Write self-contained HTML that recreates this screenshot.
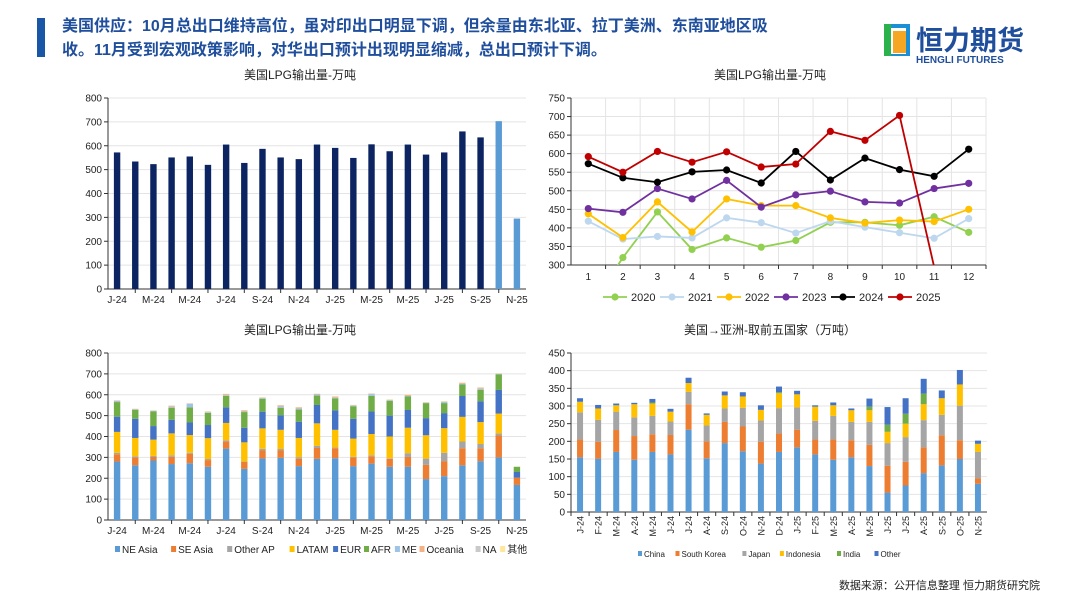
<!DOCTYPE html>
<html><head><meta charset="utf-8">
<style>
body{margin:0;width:1080px;height:608px;background:#fff;overflow:hidden;font-family:"Liberation Sans","Noto Sans CJK SC",sans-serif;}
svg text{font-family:"Liberation Sans","Noto Sans CJK SC",sans-serif;}
</style></head>
<body>
<svg id="s" width="1080" height="608">
<rect x="37" y="18" width="8" height="39" fill="#1a56a6"/>
<text x="62" y="31" font-size="16" font-weight="bold" fill="#1f4e9c">美国供应：10月总出口维持高位，虽对印出口明显下调，但余量由东北亚、拉丁美洲、东南亚地区吸</text>
<text x="62" y="55" font-size="16" font-weight="bold" fill="#1f4e9c">收。11月受到宏观政策影响，对华出口预计出现明显缩减，总出口预计下调。</text>
<g>
<rect x="884" y="24" width="26" height="32" fill="#1a8fd6"/>
<rect x="890" y="28" width="16" height="26" fill="#fff"/>
<rect x="893" y="31" width="13" height="22" fill="#f5a623"/>
<rect x="884" y="24" width="7" height="32" fill="#2bb24c"/>
<text x="916" y="50" font-size="27" font-weight="bold" fill="#1f4e9c">恒力期货</text>
<text x="916" y="63" font-size="10" font-weight="bold" fill="#1f4e9c">HENGLI FUTURES</text>
</g>
<text x="300" y="79" font-size="12" text-anchor="middle" fill="#222">美国LPG输出量-万吨</text>
<text x="770" y="79" font-size="12" text-anchor="middle" fill="#222">美国LPG输出量-万吨</text>
<text x="300" y="334" font-size="12" text-anchor="middle" fill="#222">美国LPG输出量-万吨</text>
<text x="770" y="334" font-size="12" text-anchor="middle" fill="#222">美国→亚洲-取前五国家（万吨）</text>
<text x="1040" y="589" font-size="11" text-anchor="end" fill="#222">数据来源：公开信息整理 恒力期货研究院</text>
<g id="c1"></g><g id="c2"></g><g id="c3"></g><g id="c4"></g>
</svg>
<script>
const months1 = ["J-24","F-24","M-24","A-24","M-24","J-24","J-24","A-24","S-24","O-24","N-24","D-24","J-25","F-25","M-25","A-25","M-25","J-25","J-25","A-25","S-25","O-25","N-25"];
const yTicks1 = [0,100,200,300,400,500,600,700,800];
const exports1 = [572,534,523,551,555,520,605,528,587,551,544,605,591,549,606,577,605,563,572,660,635,703,295];
const forecastFlags = [0,0,0,0,0,0,0,0,0,0,0,0,0,0,0,0,0,0,0,0,0,1,1];

const monthNums = [1,2,3,4,5,6,7,8,9,10,11,12];
const yTicks2 = [300,350,400,450,500,550,600,650,700,750];
const years = ["2020","2021","2022","2023","2024","2025"];
const y2020 = [177,320,443,342,373,348,366,415,415,407,430,388];
const y2021 = [418,370,377,373,427,414,386,418,402,387,372,425];
const y2022 = [438,374,470,389,478,460,460,427,413,421,417,450];
const y2023 = [452,442,506,478,528,456,489,499,470,467,506,520];
const y2024 = [573,535,523,551,556,521,606,529,588,557,539,612];
const y2025 = [592,550,606,577,605,564,572,660,636,703,295];

const regions = ["NE Asia","SE Asia","Other AP","LATAM","EUR","AFR","ME","Oceania","NA","其他"];
const neAsia = [280,262,285,268,272,255,342,245,295,298,258,293,296,258,270,255,255,196,210,262,282,300,168];
const seAsia = [35,38,17,35,45,32,35,33,38,35,35,52,48,42,35,38,47,68,72,82,62,105,35];
const otherAP = [7,5,5,7,5,5,5,2,8,7,8,10,3,3,5,3,18,30,40,32,20,10,0];
const latam = [100,88,78,105,85,100,83,92,98,92,92,108,85,87,102,104,122,112,118,118,105,95,0];
const eur = [73,92,65,65,60,63,75,70,80,70,78,88,93,95,108,100,85,82,72,100,100,113,27];
const afr = [70,42,70,57,73,58,55,75,62,35,58,45,58,60,75,70,65,72,48,55,55,75,25];
const me = [5,3,3,5,17,3,3,3,3,7,5,5,3,3,8,3,2,2,5,3,5,2,0];
const oceania = [2,2,1,5,1,3,5,5,2,5,5,3,5,2,2,3,5,1,2,5,5,1,0];
const na = [1,1,1,1,1,1,1,1,1,1,1,1,1,1,1,1,1,1,1,1,1,1,0];
const others = [1,1,1,1,1,1,1,1,1,1,1,1,1,1,1,1,1,1,1,1,1,1,0];

const countries = ["China","South Korea","Japan","Indonesia","India","Other"];
const yTicks4 = [0,50,100,150,200,250,300,350,400,450];
const china = [155,151,170,148,170,163,233,152,195,172,137,170,183,163,148,155,130,55,75,110,132,150,80];
const korea = [50,48,62,67,50,55,72,48,60,70,62,52,50,42,57,48,60,76,67,73,85,53,15];
const japan = [77,62,52,53,52,38,35,45,38,53,60,72,63,53,67,52,65,64,70,77,58,98,75];
const indonesia = [30,32,18,37,35,28,25,30,37,32,30,42,37,40,30,33,33,32,38,45,47,60,23];
const india = [0,0,0,0,3,0,0,0,0,0,0,3,0,0,0,0,10,20,28,30,0,0,0];
const otherC = [10,10,5,4,10,8,15,4,11,12,13,16,10,4,8,5,23,50,44,42,22,41,9];

const NS="http://www.w3.org/2000/svg";
function mk(p,t,a,txt){const e=document.createElementNS(NS,t);for(const k in a)e.setAttribute(k,a[k]);if(txt!==undefined)e.textContent=txt;p.appendChild(e);return e;}

function axesY(g,x0,x1,ys,ticks,grid){
  ticks.forEach(v=>{const y=ys(v);
    if(grid){const l=mk(g,'line',{x1:x0,x2:x1,y1:y,y2:y,stroke:'#e4e4e4'});}
    mk(g,'line',{x1:x0-4,x2:x0,y1:y,y2:y,stroke:'#333'});
    const t=mk(g,'text',{x:x0-6,y:y+3.5,'font-size':10,'text-anchor':'end',fill:'#222'},v);
    
  });
  mk(g,'line',{x1:x0,x2:x0,y1:ys(ticks[0]),y2:ys(ticks[ticks.length-1]),stroke:'#333'});
}

// Chart 1
(function(){
  const g=document.getElementById('c1');
  const x0=108,x1=526,yb=289,yt=98;
  const ys=v=>yb-(v-0)/800*(yb-yt);
  const step=(x1-x0)/months1.length;
  const xs=i=>x0+step*(i+0.5);
  axesY(g,x0,x1,ys,yTicks1,true);
  mk(g,'line',{x1:x0,x2:x1,y1:yb,y2:yb,stroke:'#333'});
  exports1.forEach((v,i)=>{
    const r=mk(g,'rect',{x:xs(i)-3.2,y:ys(v),width:6.4,height:yb-ys(v),fill:forecastFlags[i]?'#5b9bd5':'#0c2461'});
    
    
  });
  months1.forEach((m,i)=>{
    if(i%2==1){mk(g,'line',{x1:xs(i),x2:xs(i),y1:yb,y2:yb+4,stroke:'#333'});return;}
    const t=mk(g,'text',{x:xs(i),y:yb+14,'font-size':10,'text-anchor':'middle',fill:'#222'},m);
    
  });
})();

// Chart 2
(function(){
  const g=document.getElementById('c2');
  const x0=571,x1=986,yb=265,yt=98;
  const ys=v=>yb-(v-300)/450*(yb-yt);
  const step=(x1-x0)/12;
  const xs=i=>x0+step*(i+0.5);
  const cp=mk(g,'clipPath',{id:'clip2'});mk(cp,'rect',{x:x0,y:yt-6,width:x1-x0,height:yb-yt+6});
  axesY(g,x0,x1,ys,yTicks2,true);
  for(let i=1;i<=12;i++){const x=x0+step*i;mk(g,'line',{x1:x,x2:x,y1:yt,y2:yb,stroke:'#e4e4e4'});mk(g,'line',{x1:x,x2:x,y1:yb,y2:yb+4,stroke:'#333'});}
  mk(g,'line',{x1:x0,x2:x1,y1:yb,y2:yb,stroke:'#333'});
  monthNums.forEach((m,i)=>{const t=mk(g,'text',{x:xs(i),y:yb+15,'font-size':10,'text-anchor':'middle',fill:'#222'},m);});
  const series=[y2020,y2021,y2022,y2023,y2024,y2025];
  const cols=['#92d050','#bdd7ee','#ffc000','#7030a0','#000000','#c00000'];
  const sg=mk(g,'g',{'clip-path':'url(#clip2)'});
  series.forEach((s,k)=>{
    const pts=s.map((v,i)=>xs(i)+','+ys(v)).join(' ');
    const pl=mk(sg,'polyline',{points:pts,fill:'none',stroke:cols[k],'stroke-width':1.8});
    
    
    s.forEach((v,i)=>{if(v<300)return;const c=mk(sg,'circle',{cx:xs(i),cy:ys(v),r:3.6,fill:cols[k]});
      
      });
  });
  years.forEach((y,k)=>{
    const lx=603+k*57,ly=297;
    const lg=mk(g,'g',{});
    
    
    mk(lg,'line',{x1:lx,x2:lx+24,y1:ly,y2:ly,stroke:cols[k],'stroke-width':1.8});
    mk(lg,'circle',{cx:lx+12,cy:ly,r:3.6,fill:cols[k]});
    mk(lg,'text',{x:lx+28,y:ly+4,'font-size':11,fill:'#222'},y);
  });
})();

function stacked(gid,x0,x1,yb,yt,max,ticks,seriesArr,cols,names,labelsRot,barW){
  const g=document.getElementById(gid);
  const ys=v=>yb-v/max*(yb-yt);
  const step=(x1-x0)/months1.length;
  const xs=i=>x0+step*(i+0.5);
  axesY(g,x0,x1,ys,ticks,true);
  mk(g,'line',{x1:x0,x2:x1,y1:yb,y2:yb,stroke:'#333'});
  months1.forEach((m,i)=>{
    let acc=0;
    seriesArr.forEach((s,k)=>{
      const v=s[i];if(v<=0)return;
      const r=mk(g,'rect',{x:xs(i)-barW/2,y:ys(acc+v),width:barW,height:ys(acc)-ys(acc+v),fill:cols[k]});
      
      
      acc+=v;
    });
  });
  months1.forEach((m,i)=>{
    if(labelsRot){
      mk(g,'line',{x1:xs(i)-step/2,x2:xs(i)-step/2,y1:yb,y2:yb+4,stroke:'#333'});
      const t=mk(g,'text',{x:xs(i)+3.5,y:yb+4,'font-size':9,'text-anchor':'end',fill:'#222',transform:`rotate(-90 ${xs(i)+3.5} ${yb+4})`},m);
      
    } else {
      if(i%2==1){mk(g,'line',{x1:xs(i),x2:xs(i),y1:yb,y2:yb+4,stroke:'#333'});return;}
      const t=mk(g,'text',{x:xs(i),y:yb+14,'font-size':10,'text-anchor':'middle',fill:'#222'},m);
      
    }
  });
  return g;
}

// Chart 3
(function(){
  const cols=['#5b9bd5','#ed7d31','#a5a5a5','#ffc000','#4472c4','#70ad47','#9dc3e6','#f4b183','#c9c9c9','#ffe699'];
  const g=stacked('c3',108,526,520,353,800,yTicks1,[neAsia,seAsia,otherAP,latam,eur,afr,me,oceania,na,others],cols,regions,false,6.4);
  let lx=115;
  regions.forEach((r,k)=>{
    const lg=mk(g,'g',{});
    
    
    mk(lg,'rect',{x:lx,y:546,width:5,height:6,fill:cols[k]});
    const t=mk(lg,'text',{x:lx+7,y:553,'font-size':10,fill:'#222'},r);
    lx+=7+r.length*6.3+(r=='其他'?6:5);
  });
})();

// Chart 4
(function(){
  const cols=['#5b9bd5','#ed7d31','#a5a5a5','#ffc000','#70ad47','#4472c4'];
  const g=stacked('c4',571,987,512,353,450,yTicks4,[china,korea,japan,indonesia,india,otherC],cols,countries,true,6);
  let lx=638;
  countries.forEach((c,k)=>{
    const lg=mk(g,'g',{});
    
    
    mk(lg,'rect',{x:lx,y:551,width:4,height:5,fill:cols[k]});
    mk(lg,'text',{x:lx+6,y:557,'font-size':8,fill:'#222'},c);
    lx+=6+c.length*4.9+7;
  });
})();
</script>
</body></html>
